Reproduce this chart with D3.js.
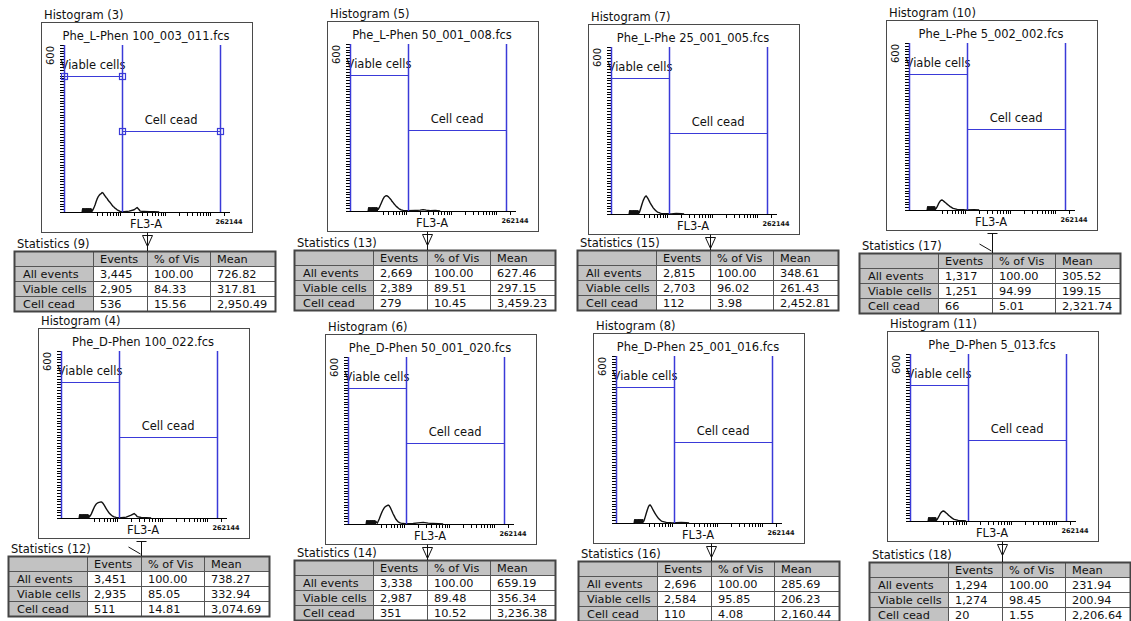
<!DOCTYPE html>
<html>
<head>
<meta charset="utf-8">
<script src="https://cdn.jsdelivr.net/npm/d3@7"></script>
<style>
  html, body { margin: 0; padding: 0; background: #fff; }
  svg { display: block; font-family: "DejaVu Sans", Verdana, sans-serif; }
</style>
</head>
<body>
<svg id="chart" width="1131" height="621"></svg>
<script>
// ---- Panel text ----
const histTitles = ["Histogram (3)", "Histogram (5)", "Histogram (7)", "Histogram (10)",
                    "Histogram (4)", "Histogram (6)", "Histogram (8)", "Histogram (11)"];
const sampleFiles = ["Phe_L-Phen 100_003_011.fcs", "Phe_L-Phen 50_001_008.fcs", "Phe_L-Phe 25_001_005.fcs", "Phe_L-Phe 5_002_002.fcs",
                     "Phe_D-Phen 100_022.fcs", "Phe_D-Phen 50_001_020.fcs", "Phe_D-Phen 25_001_016.fcs", "Phe_D-Phen 5_013.fcs"];
const statTitles = ["Statistics (9)", "Statistics (13)", "Statistics (15)", "Statistics (17)",
                    "Statistics (12)", "Statistics (14)", "Statistics (16)", "Statistics (18)"];
const populations = ["All events", "Viable cells", "Cell cead"];
const statColumns = ["Events", "% of Vis", "Mean"];

// ---- Statistics per panel (rows: all events, viable cells, cell cead) ----
const eventCounts = [[3445, 2905, 536], [2669, 2389, 279], [2815, 2703, 112], [1317, 1251, 66],
                     [3451, 2935, 511], [3338, 2987, 351], [2696, 2584, 110], [1294, 1274, 20]];
const pctOfVisible = [[100, 84.33, 15.56], [100, 89.51, 10.45], [100, 96.02, 3.98], [100, 94.99, 5.01],
                      [100, 85.05, 14.81], [100, 89.48, 10.52], [100, 95.85, 4.08], [100, 98.45, 1.55]];
const meanFL3 = [[726.82, 317.81, 2950.49], [627.46, 297.15, 3459.23], [348.61, 261.43, 2452.81], [305.52, 199.15, 2321.74],
                 [738.27, 332.94, 3074.69], [659.19, 356.34, 3236.38], [285.69, 206.23, 2160.44], [231.94, 200.94, 2206.64]];

// ---- Axes and gates ----
const xMin = 56.5, xMax = 262144, yMax = 600;
const axisTitle = "FL3-A";
const gateNames = ["Viable cells", "Cell cead"];
const gateEdges = [56.5, 1100, 167000];   // FL3-A bounds of the two gates
const gateLevels = [488, 290];            // drawn height of each gate bar (counts)

// ---- FL3-A histograms: [channel value, count] ----
// low-channel debris, shared by all samples
const debris = [[143,0],[147,12],[151,0],[155,12],[159,0],[163,12],[167,0],[171,12],[176,0],[180,12],
                [185,0],[190,12],[195,0],[200,12],[205,0],[210,12],[216,0],[221,12],[227,0],[233,10]];
const hist3 = [[239,3],[252,10],[265,18],[279,27],[293,38],[308,47],[325,55],[342,60],[360,64],[379,66],[398,70],[419,68],
               [441,62],[464,57],[489,52],[515,48],[542,42],[570,38],[600,34],[631,29],[664,24],[699,20],[736,17],[774,13],
               [815,11],[858,8],[903,6],[951,4],[1000,2],[1053,1],[1228,1],[1586,3],[2049,8],[2380,16],[2646,8],[2785,3],
               [3417,2],[4414,1],[5700,1],[7362,0]];
const hist5 = [[239,6],[252,12],[265,20],[279,28],[293,36],[308,44],[325,50],[342,53],[360,55],[379,54],[398,52],[419,48],
               [441,44],[464,40],[489,34],[515,30],[542,25],[570,21],[600,17],[631,14],[664,11],[699,8],[736,6],[774,4],
               [815,3],[858,2],[951,1],[1053,1],[1586,2],[2049,3],[2380,5],[2785,3],[3417,1],[4414,2],[5700,0]];
const hist7 = [[239,4],[252,14],[265,26],[279,38],[293,48],[308,56],[325,62],[342,65],[360,60],[379,54],[398,47],[419,40],
               [441,34],[464,28],[489,22],[515,18],[542,14],[570,11],[600,8],[631,6],[664,5],[699,3],[736,2],[815,1],
               [1000,1],[1228,0],[1586,2],[2049,1],[2380,0]];
const hist10 = [[216,2],[227,6],[239,12],[252,20],[265,27],[279,32],[293,35],[308,36],[325,33],[342,30],[360,27],[379,24],
                [398,21],[419,18],[441,15],[464,12],[489,10],[515,8],[542,6],[570,5],[600,4],[631,3],[664,2],[736,1],
                [903,1],[1000,0],[1586,1],[2049,0]];
const hist4 = [[239,3],[252,8],[265,14],[279,22],[293,30],[308,38],[325,45],[342,50],[360,53],[379,55],[398,56],[419,57],
               [441,58],[464,56],[489,52],[515,46],[542,40],[570,34],[600,28],[631,23],[664,18],[699,14],[736,11],[774,8],
               [815,6],[858,4],[903,3],[951,2],[1053,1],[1228,1],[1586,3],[2049,10],[2380,16],[2646,10],[2785,5],[3417,2],
               [4414,1],[5700,0]];
const hist6 = [[252,3],[265,10],[279,18],[293,27],[308,36],[325,45],[342,52],[360,58],[379,62],[398,64],[419,66],[441,68],
               [464,66],[489,60],[515,52],[542,44],[570,36],[600,29],[631,22],[664,16],[699,12],[736,8],[774,6],[815,4],
               [858,3],[951,2],[1053,1],[1586,2],[2049,4],[2646,6],[3417,3],[4414,2],[5700,1],[7362,0]];
const hist8 = [[227,3],[239,10],[252,22],[265,34],[279,46],[293,56],[308,63],[325,65],[342,60],[360,53],[379,46],[398,40],
               [419,34],[441,28],[464,23],[489,18],[515,14],[542,11],[570,8],[600,6],[631,5],[664,4],[699,3],[736,2],
               [815,1],[903,1],[1000,0],[1228,1],[1586,2],[2049,1],[2380,0]];
const hist11 = [[216,2],[227,6],[239,12],[252,19],[265,26],[279,31],[293,34],[308,36],[325,35],[342,32],[360,29],[379,26],
                [398,22],[419,19],[441,16],[464,13],[489,10],[515,8],[542,6],[570,5],[600,4],[631,3],[664,2],[736,1],
                [858,1],[1000,0]];
const histograms = [hist3, hist5, hist7, hist10, hist4, hist6, hist8, hist11];

// ---- Page layout: histogram frame and statistics table origins ----
const panelLayout = [
  { box: [41, 22],  table: [14, 251],  link: "funnel" },
  { box: [327, 21], table: [294, 250], link: "funnel" },
  { box: [588, 24], table: [577, 250], link: "funnel" },
  { box: [886, 20], table: [859, 253], link: "tee" },
  { box: [38, 328], table: [8, 556],   link: "tee" },
  { box: [325, 334], table: [294, 560], link: "funnel" },
  { box: [593, 333], table: [578, 561], link: "funnel" },
  { box: [887, 331], table: [869, 562], link: "funnel" }
];
const selectedPanel = 0;   // the active histogram shows gate handles

const BOX_W = 211, BOX_H = 210;
const PLOT_L = 23, PLOT_T = 23, PLOT_B = 190, PLOT_W = 165;
const colWidths = [79, 54, 63, 65];
const ROW_H = 15;
const BLUE = "#3a3ad8";
const INK = "#111";
const GRAY = "#c2c2c2";
const GRID = "#555";

const fmtInt = d3.format(",");
const fmtPct = d3.format(".2f");
const fmtMean = d3.format(",.2f");

// log minor ticks along FL3-A
const xTicks = [2, 3, 4, 5].flatMap(d => d3.range(1, 10).map(k => k * Math.pow(10, d)))
  .filter(v => v >= 300 && v <= xMax);

const svg = d3.select("#chart");
const colX = colWidths.reduce((acc, w) => { acc.push(acc[acc.length - 1] + w); return acc; }, [0]);

panelLayout.forEach((lay, i) => {
  const [bx, by] = lay.box;
  const g = svg.append("g");
  const x = d3.scaleLog().domain([xMin, xMax]).range([bx + PLOT_L, bx + PLOT_L + PLOT_W]);
  const y = d3.scaleLinear().domain([0, yMax]).range([by + PLOT_B, by + PLOT_T]);

  // frame and titles
  g.append("text").attr("x", bx + 3).attr("y", by - 3.5)
    .attr("font-size", 11.5).attr("fill", INK).text(histTitles[i]);
  g.append("rect").attr("x", bx + 0.5).attr("y", by + 0.5)
    .attr("width", BOX_W).attr("height", BOX_H)
    .attr("fill", "#fff").attr("stroke", "#4a4a4a");
  g.append("text").attr("x", bx + 105).attr("y", by + 18)
    .attr("text-anchor", "middle").attr("font-size", 11.5).attr("fill", INK)
    .text(sampleFiles[i]);

  // gate labels sit underneath the gate lines
  gateNames.forEach((name, k) => {
    g.append("text")
      .attr("x", (x(gateEdges[k]) + x(gateEdges[k + 1])) / 2)
      .attr("y", y(gateLevels[k]) - 7.5)
      .attr("text-anchor", "middle").attr("font-size", 11.5).attr("fill", INK)
      .text(name);
  });

  // count axis: dense ruler ticks
  g.append("g")
    .attr("transform", `translate(${x(xMin)},0)`)
    .call(d3.axisLeft(y).tickValues(d3.range(0, yMax + 1, 10)).tickSize(4).tickSizeOuter(0).tickFormat(""))
    .call(a => a.selectAll("line,path").attr("stroke", "#000").attr("shape-rendering", "crispEdges"));
  g.append("text")
    .attr("transform", `translate(${x(xMin) - 10},${y(yMax) + 1}) rotate(-90)`)
    .attr("text-anchor", "end").attr("font-size", 10).attr("fill", INK)
    .text(yMax);

  // FL3-A axis
  g.append("g")
    .attr("transform", `translate(0,${y(0)})`)
    .call(d3.axisBottom(x).tickValues(xTicks).tickSize(4).tickSizeOuter(0).tickFormat(""))
    .call(a => a.selectAll("line,path").attr("stroke", "#000").attr("shape-rendering", "crispEdges"));
  g.append("text").attr("x", x(xMax)).attr("y", y(0) + 12)
    .attr("text-anchor", "middle").attr("font-size", 6.5).attr("font-weight", "bold").attr("fill", INK)
    .text(d3.format("d")(xMax));
  g.append("text").attr("x", bx + 105).attr("y", by + 206)
    .attr("text-anchor", "middle").attr("font-size", 11.5).attr("fill", INK)
    .text(axisTitle);

  // histogram trace
  const series = debris.filter(d => d[0] < histograms[i][0][0]).concat(histograms[i]);
  g.append("path").datum(series)
    .attr("d", d3.line().x(d => x(d[0])).y(d => y(d[1])))
    .attr("fill", "none").attr("stroke", INK).attr("stroke-width", 1.4)
    .attr("stroke-linejoin", "round");

  // gates
  g.selectAll(null).data(gateEdges).join("line")
    .attr("x1", d => Math.round(x(d)) + 0.5).attr("x2", d => Math.round(x(d)) + 0.5)
    .attr("y1", y(yMax)).attr("y2", y(0))
    .attr("stroke", BLUE).attr("stroke-width", 1.5);
  gateLevels.forEach((lvl, k) => {
    g.append("line")
      .attr("x1", x(gateEdges[k])).attr("x2", x(gateEdges[k + 1]))
      .attr("y1", Math.round(y(lvl)) + 0.5).attr("y2", Math.round(y(lvl)) + 0.5)
      .attr("stroke", BLUE).attr("stroke-width", 1.2);
  });
  if (i === selectedPanel) {
    const handles = gateLevels.flatMap((lvl, k) => [[gateEdges[k], lvl], [gateEdges[k + 1], lvl]]);
    g.selectAll(null).data(handles).join("rect")
      .attr("x", d => Math.round(x(d[0])) - 2.5).attr("y", d => Math.round(y(d[1])) - 2.5)
      .attr("width", 6).attr("height", 6)
      .attr("fill", "none").attr("stroke", BLUE).attr("stroke-width", 1.2);
  }

  // statistics table
  const [tx, ty] = lay.table;
  const rows = [[""].concat(statColumns)].concat(populations.map((p, r) => [
    p, fmtInt(eventCounts[i][r]), fmtPct(pctOfVisible[i][r]), fmtMean(meanFL3[i][r])
  ]));
  rows.forEach((row, r) => row.forEach((cell, c) => {
    g.append("rect")
      .attr("x", tx + colX[c] + 0.5).attr("y", ty + r * ROW_H + 0.5)
      .attr("width", colWidths[c]).attr("height", ROW_H)
      .attr("fill", r === 0 || c === 0 ? GRAY : "#fff")
      .attr("stroke", GRID).attr("stroke-width", 1);
    g.append("text")
      .attr("x", tx + colX[c] + (c === 0 ? 9 : 7)).attr("y", ty + r * ROW_H + 11.5)
      .attr("font-size", 11.3).attr("fill", INK).text(cell);
  }));
  g.append("rect")
    .attr("x", tx + 0.5).attr("y", ty + 0.5)
    .attr("width", colX[colX.length - 1]).attr("height", ROW_H * rows.length)
    .attr("fill", "none").attr("stroke", "#444").attr("stroke-width", 2);
  g.append("text").attr("x", tx + 3).attr("y", ty - 3.5)
    .attr("font-size", 11.5).attr("fill", INK).text(statTitles[i]);

  // link from histogram frame to its table
  const cx = tx + colX[2] + 0.5;
  const top = by + BOX_H + 0.5;
  const link = g.append("g").attr("stroke", INK).attr("fill", "none").attr("stroke-width", 1);
  if (lay.link === "funnel") {
    link.append("line").attr("x1", cx).attr("x2", cx).attr("y1", top).attr("y2", ty);
    link.append("path").attr("d", `M${cx - 5},${top + 3}L${cx + 5},${top + 3}L${cx},${top + 14}Z`);
  } else {
    link.append("line").attr("x1", cx - 5).attr("x2", cx + 5).attr("y1", top + 3).attr("y2", top + 3);
    link.append("line").attr("x1", cx).attr("x2", cx).attr("y1", top + 3).attr("y2", ty);
    link.append("line").attr("x1", cx - 13).attr("x2", cx - 1).attr("y1", ty - 9).attr("y2", ty - 2);
  }
});
</script>
</body>
</html>
